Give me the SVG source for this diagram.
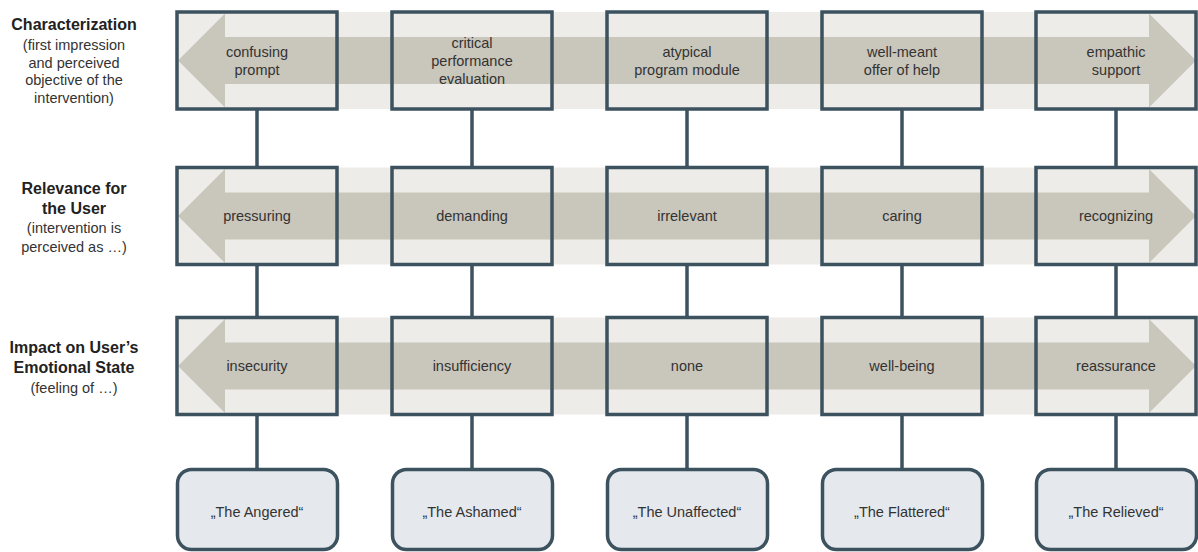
<svg xmlns="http://www.w3.org/2000/svg" width="1198" height="552" viewBox="0 0 1198 552">
<defs>
<style>
.band{fill:#EDECE9}
.arr{fill:#C9C6BB}
.box{fill:none;stroke:#3D525F;stroke-width:3.5}
.pbox{fill:#E5E9ED;stroke:#3D525F;stroke-width:3.5}
.stem{stroke:#3D525F;stroke-width:3.5}
text{font-family:"Liberation Sans",Arial,sans-serif;fill:#333;text-anchor:middle}
.t{font-size:14.5px}
.h{font-size:16px;font-weight:bold;fill:#222}
.s{font-size:14.5px}
</style>
</defs>
<g id="connectors">
<line class="stem" x1="257" y1="109" x2="257" y2="469"/>
<line class="stem" x1="472" y1="109" x2="472" y2="469"/>
<line class="stem" x1="687" y1="109" x2="687" y2="469"/>
<line class="stem" x1="902" y1="109" x2="902" y2="469"/>
<line class="stem" x1="1116" y1="109" x2="1116" y2="469"/>
</g>
<g id="row1-band">
<rect class="band" x="176" y="12" width="1022" height="97"/>
<polygon class="arr" points="178,60.5 225,13.5 225,37 1149,37 1149,13.5 1196,60.5 1149,107.5 1149,84 225,84 225,107.5"/>
</g>
<g id="row2-band">
<rect class="band" x="176" y="167.5" width="1022" height="97"/>
<polygon class="arr" points="178,216 225,169 225,192.5 1149,192.5 1149,169 1196,216 1149,263 1149,239.5 225,239.5 225,263"/>
</g>
<g id="row3-band">
<rect class="band" x="176" y="317.5" width="1022" height="97"/>
<polygon class="arr" points="178,366 225,319 225,342.5 1149,342.5 1149,319 1196,366 1149,413 1149,389.5 225,389.5 225,413"/>
</g>
<g id="label-row1">
<text class="h" x="74" y="30">Characterization</text>
<text class="s" x="74" y="49.5">(first impression</text>
<text class="s" x="74" y="67.5">and perceived</text>
<text class="s" x="74" y="85">objective of the</text>
<text class="s" x="74" y="103">intervention)</text>
</g>
<g id="label-row2">
<text class="h" x="74" y="193.5">Relevance for</text>
<text class="h" x="74" y="213.5">the User</text>
<text class="s" x="74" y="233">(intervention is</text>
<text class="s" x="74" y="251.5">perceived as …)</text>
</g>
<g id="label-row3">
<text class="h" x="74" y="353">Impact on User’s</text>
<text class="h" x="74" y="373">Emotional State</text>
<text class="s" x="74" y="393">(feeling of …)</text>
</g>
<g id="n1-1"><rect class="box" x="177" y="12" width="160" height="97"/><text class="t" x="257" y="56.5">confusing</text><text class="t" x="257" y="74.5">prompt</text></g>
<g id="n1-2"><rect class="box" x="392" y="12" width="160" height="97"/><text class="t" x="472" y="47.5">critical</text><text class="t" x="472" y="65.5">performance</text><text class="t" x="472" y="83.5">evaluation</text></g>
<g id="n1-3"><rect class="box" x="607" y="12" width="160" height="97"/><text class="t" x="687" y="56.5">atypical</text><text class="t" x="687" y="74.5">program module</text></g>
<g id="n1-4"><rect class="box" x="822" y="12" width="160" height="97"/><text class="t" x="902" y="56.5">well-meant</text><text class="t" x="902" y="74.5">offer of help</text></g>
<g id="n1-5"><rect class="box" x="1036" y="12" width="160" height="97"/><text class="t" x="1116" y="56.5">empathic</text><text class="t" x="1116" y="74.5">support</text></g>
<g id="n2-1"><rect class="box" x="177" y="167.5" width="160" height="97"/><text class="t" x="257" y="221">pressuring</text></g>
<g id="n2-2"><rect class="box" x="392" y="167.5" width="160" height="97"/><text class="t" x="472" y="221">demanding</text></g>
<g id="n2-3"><rect class="box" x="607" y="167.5" width="160" height="97"/><text class="t" x="687" y="221">irrelevant</text></g>
<g id="n2-4"><rect class="box" x="822" y="167.5" width="160" height="97"/><text class="t" x="902" y="221">caring</text></g>
<g id="n2-5"><rect class="box" x="1036" y="167.5" width="160" height="97"/><text class="t" x="1116" y="221">recognizing</text></g>
<g id="n3-1"><rect class="box" x="177" y="317.5" width="160" height="97"/><text class="t" x="257" y="371">insecurity</text></g>
<g id="n3-2"><rect class="box" x="392" y="317.5" width="160" height="97"/><text class="t" x="472" y="371">insufficiency</text></g>
<g id="n3-3"><rect class="box" x="607" y="317.5" width="160" height="97"/><text class="t" x="687" y="371">none</text></g>
<g id="n3-4"><rect class="box" x="822" y="317.5" width="160" height="97"/><text class="t" x="902" y="371">well-being</text></g>
<g id="n3-5"><rect class="box" x="1036" y="317.5" width="160" height="97"/><text class="t" x="1116" y="371">reassurance</text></g>
<g id="p1"><rect class="pbox" x="177.5" y="469.5" width="160" height="80" rx="14"/><text class="t" x="257" y="517">„The Angered“</text></g>
<g id="p2"><rect class="pbox" x="392.5" y="469.5" width="160" height="80" rx="14"/><text class="t" x="472" y="517">„The Ashamed“</text></g>
<g id="p3"><rect class="pbox" x="607.5" y="469.5" width="160" height="80" rx="14"/><text class="t" x="687" y="517">„The Unaffected“</text></g>
<g id="p4"><rect class="pbox" x="822.5" y="469.5" width="160" height="80" rx="14"/><text class="t" x="902" y="517">„The Flattered“</text></g>
<g id="p5"><rect class="pbox" x="1036.5" y="469.5" width="160" height="80" rx="14"/><text class="t" x="1116" y="517">„The Relieved“</text></g>
</svg>
